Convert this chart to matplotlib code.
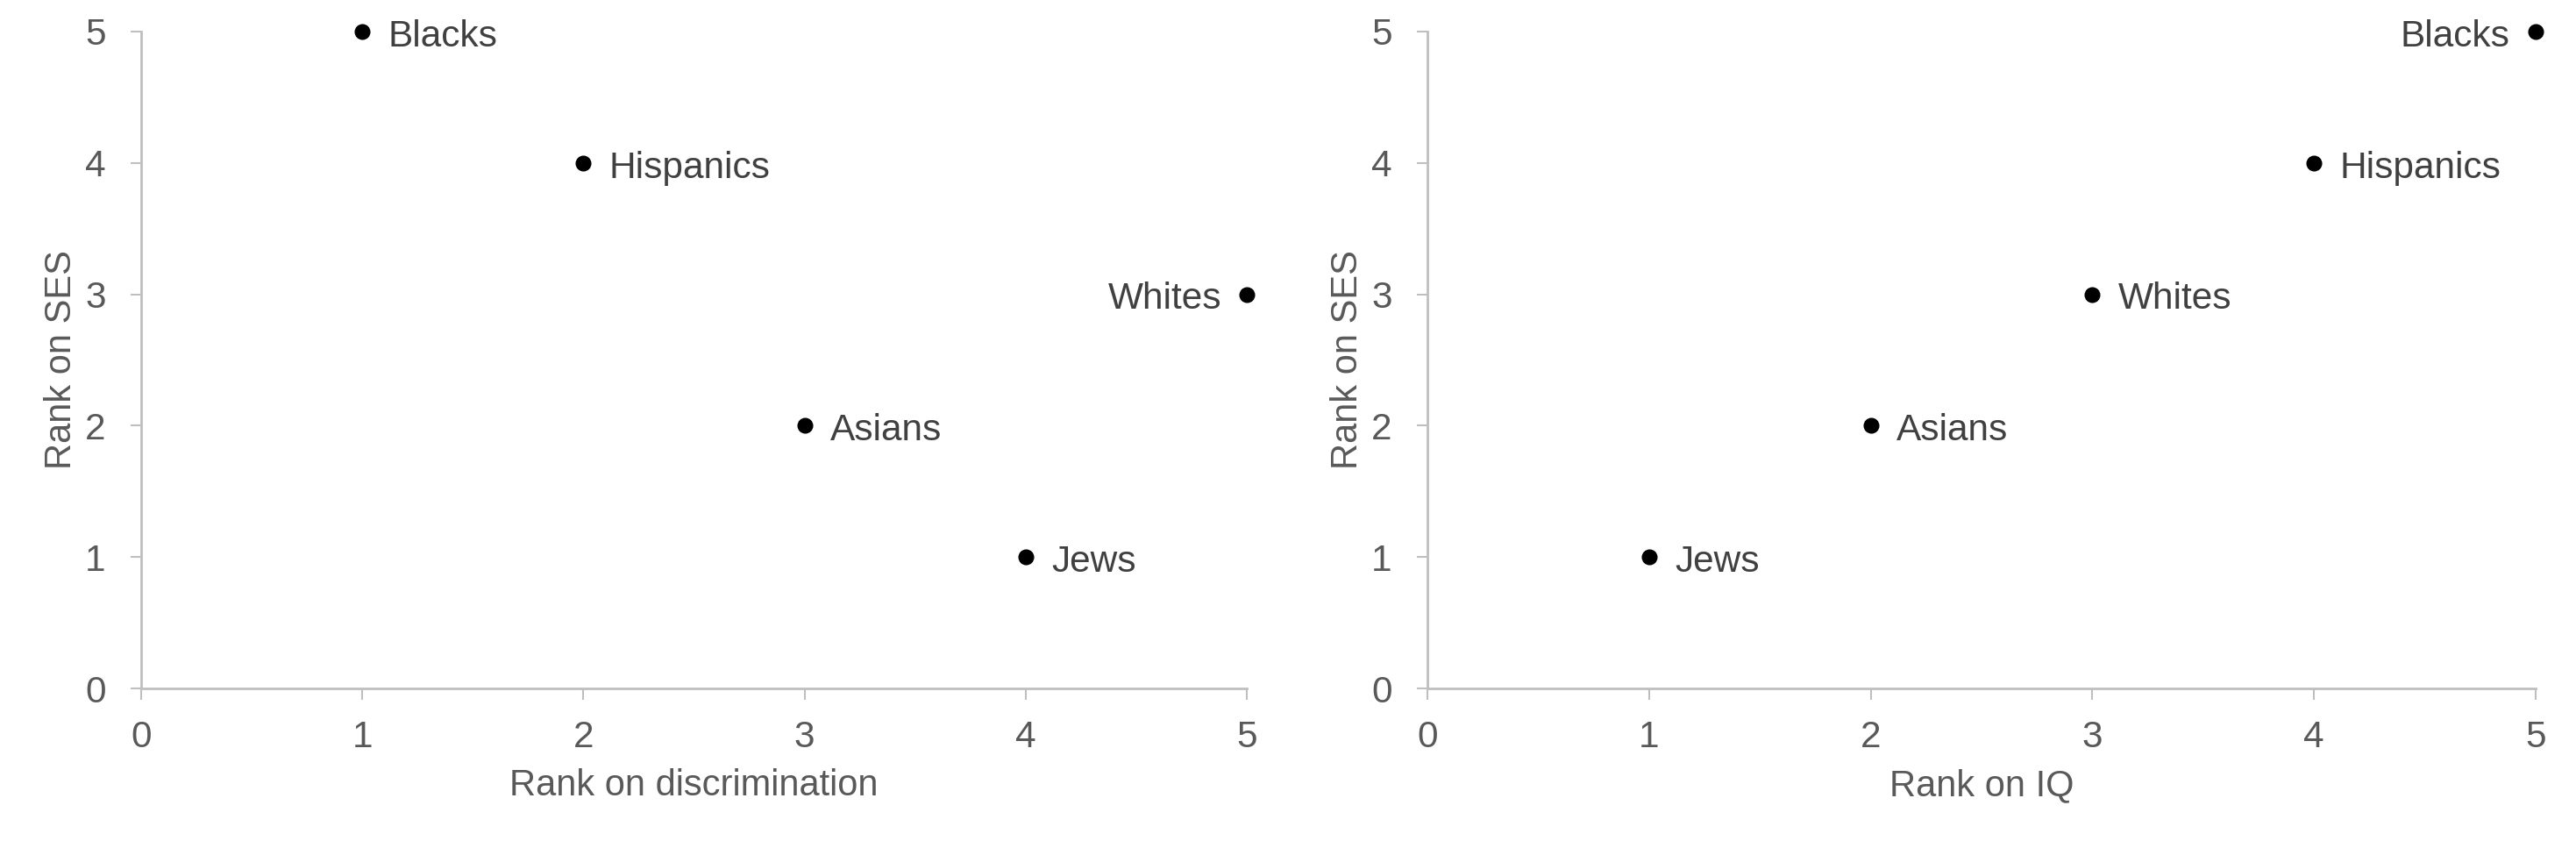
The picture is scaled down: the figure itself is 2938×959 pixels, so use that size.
import matplotlib.pyplot as plt

plt.rcParams['font.family'] = ['Liberation Sans', 'DejaVu Sans']

groups = ['Blacks', 'Hispanics', 'Whites', 'Asians', 'Jews']
rank_ses = [5, 4, 3, 2, 1]
rank_discrimination = [1, 2, 5, 3, 4]
rank_iq = [5, 4, 3, 2, 1]

# which side of the dot each label sits on
side_left = ['right', 'right', 'left', 'right', 'right']
side_right = ['left', 'right', 'right', 'right', 'right']

AXIS_GRAY = '#bfbfbf'
TICK_GRAY = '#595959'
TEXT_GRAY = '#404040'

fig = plt.figure(figsize=(29.38, 9.59), dpi=100)
ax1 = fig.add_axes([0.0548, 0.1814, 0.4292, 0.7811])
ax2 = fig.add_axes([0.5541, 0.1814, 0.4302, 0.7811])


def draw(ax, xs, sides, xlabel):
    ax.plot(xs, rank_ses, 'o', color='black', markersize=12, clip_on=False, zorder=3)
    for x, y, name, s in zip(xs, rank_ses, groups, sides):
        dx = 21 if s == 'right' else -21
        ha = 'left' if s == 'right' else 'right'
        ax.annotate(name, (x, y), xytext=(dx, -1), textcoords='offset points',
                    ha=ha, va='center_baseline', fontsize=30.5, color=TEXT_GRAY)
    ax.set_xlim(0, 5)
    ax.set_ylim(0, 5)
    ax.set_xticks(range(6))
    ax.set_yticks(range(6))
    for sp in ['top', 'right']:
        ax.spines[sp].set_visible(False)
    for sp in ['left', 'bottom']:
        ax.spines[sp].set_color(AXIS_GRAY)
        ax.spines[sp].set_linewidth(2)
    ax.tick_params(axis='both', colors=AXIS_GRAY, labelcolor=TICK_GRAY,
                   labelsize=30.5, length=9, width=1.5)
    ax.tick_params(axis='y', pad=20)
    ax.tick_params(axis='x', pad=17)
    ax.set_xlabel(xlabel, fontsize=30, color=TICK_GRAY, labelpad=11)
    ax.set_ylabel('Rank on SES', fontsize=30, color=TICK_GRAY, labelpad=5)


draw(ax1, rank_discrimination, side_left, 'Rank on discrimination')
draw(ax2, rank_iq, side_right, 'Rank on IQ')

fig.savefig('out.png', dpi=100)
